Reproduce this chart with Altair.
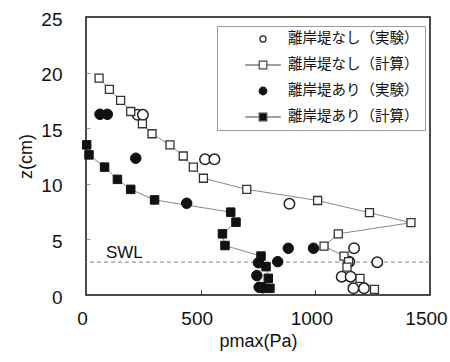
import altair as alt
import pandas as pd

# Series labels
S_OPEN_EXP = "離岸堤なし（実験）"
S_OPEN_CAL = "離岸堤なし（計算）"
S_FILL_EXP = "離岸堤あり（実験）"
S_FILL_CAL = "離岸堤あり（計算）"
SERIES = [S_OPEN_EXP, S_OPEN_CAL, S_FILL_EXP, S_FILL_CAL]

# No breakwater, experiment (pmax in Pa, z in cm)
nb_exp_p = [225, 248, 519, 560, 887, 1169, 1148, 1270, 1115, 1154, 1166, 1212]
nb_exp_z = [16.2, 16.2, 12.2, 12.2, 8.2, 4.2, 3.0, 2.95, 1.65, 1.65, 0.6, 0.6]

# No breakwater, calculation
nb_cal_p = [57, 102, 151, 195, 246, 288, 366, 424, 468, 512, 701, 1010, 1236,
            1417, 1100, 1038, 1125, 1145, 1138, 1195, 1258]
nb_cal_z = [19.5, 18.5, 17.5, 16.5, 15.4, 14.5, 13.5, 12.5, 11.5, 10.5, 9.5,
            8.5, 7.4, 6.5, 5.5, 4.4, 3.5, 3.0, 2.5, 1.5, 0.5]

# With breakwater, experiment
wb_exp_p = [61, 93, 217, 439, 882, 992, 836, 752, 745, 755, 772]
wb_exp_z = [16.25, 16.25, 12.3, 8.25, 4.2, 4.2, 3.0, 2.9, 1.75, 0.7, 0.65]

# With breakwater, calculation
wb_cal_p = [3, 13, 81, 137, 195, 299, 631, 654, 595, 606, 763, 785, 795, 802]
wb_cal_z = [13.5, 12.6, 11.5, 10.4, 9.5, 8.55, 7.45, 6.55, 5.5, 4.45, 3.5,
            2.55, 1.5, 0.6]

SWL_Z = 2.95

x_ticks = [0, 500, 1000, 1500]
y_ticks = [0, 5, 10, 15, 20, 25]


def frame(p, z, name):
    return pd.DataFrame({"p": p, "z": z, "series": name, "idx": range(len(p))})


df_nb_exp = frame(nb_exp_p, nb_exp_z, S_OPEN_EXP)
df_nb_cal = frame(nb_cal_p, nb_cal_z, S_OPEN_CAL)
df_wb_exp = frame(wb_exp_p, wb_exp_z, S_FILL_EXP)
df_wb_cal = frame(wb_cal_p, wb_cal_z, S_FILL_CAL)
df_all = pd.concat([df_nb_exp, df_nb_cal, df_wb_exp, df_wb_cal], ignore_index=True)
df_lines = pd.concat([df_nb_cal, df_wb_cal], ignore_index=True)

AX_FONT = "Liberation Sans"
JP_FONT = "Noto Sans CJK JP"

x_scale = alt.Scale(domain=[0, 1500], nice=False, zero=False)
y_scale = alt.Scale(domain=[0, 25], nice=False, zero=False)

x_main = alt.X("p:Q", scale=x_scale, axis=alt.Axis(
    values=x_ticks, format="d", title="pmax(Pa)", grid=False, domain=False,
    ticks=False, tickSize=0, labelPadding=14, labelFlush=False,
    labelOffset=-4, labelFontSize=19, labelFont=AX_FONT, labelColor="#111",
    titleFont=AX_FONT, titleFontSize=18, titleFontWeight="normal",
    titleColor="#111", titlePadding=4))
y_main = alt.Y("z:Q", scale=y_scale, axis=alt.Axis(
    values=y_ticks, format="d", title="z(cm)", grid=False, domain=False,
    ticks=False, tickSize=0, labelPadding=24, labelFlush=False,
    labelOffset=2, labelFontSize=19, labelFont=AX_FONT, labelColor="#111",
    titleFont=AX_FONT, titleFontSize=18, titleFontWeight="normal",
    titleColor="#111", titlePadding=5))

x_plain = alt.X("p:Q", scale=x_scale, axis=None)
y_plain = alt.Y("z:Q", scale=y_scale, axis=None)

# Inward tick marks drawn by axes mirrored onto the bottom and left edges
tick_layer = alt.Chart(df_all).mark_point(opacity=0).encode(
    x=alt.X("p:Q", scale=x_scale, axis=alt.Axis(
        orient="top", offset=-278, values=[500, 1000], labels=False,
        domain=False, grid=False, title=None, tickSize=5, tickColor="#333",
        tickWidth=1)),
    y=alt.Y("z:Q", scale=y_scale, axis=alt.Axis(
        orient="right", offset=-344, values=[5, 10, 15, 20], labels=False,
        domain=False, grid=False, title=None, tickSize=4, tickColor="#999",
        tickWidth=1)),
)

swl_rule = alt.Chart(pd.DataFrame({"z": [SWL_Z]})).mark_rule(
    color="#999", strokeDash=[4, 3], strokeWidth=1.2
).encode(y=y_plain)

swl_text = alt.Chart(pd.DataFrame({"p": [87], "z": [3.3], "t": ["SWL"]})).mark_text(
    align="left", baseline="alphabetic", font=AX_FONT, fontSize=17, color="#111"
).encode(x=x_plain, y=y_plain, text="t:N")

lines = alt.Chart(df_lines).mark_line(color="#888", strokeWidth=1).encode(
    x=x_plain, y=y_plain, detail="series:N", order="idx:Q")

open_circles = alt.Chart(df_nb_exp).mark_point(
    shape="circle", filled=True, fill="white", stroke="#222", strokeWidth=1.5,
    size=110, opacity=1).encode(x=x_plain, y=y_plain)

open_squares = alt.Chart(df_nb_cal).mark_point(
    shape="square", filled=True, fill="white", stroke="#333", strokeWidth=1.3,
    size=64, opacity=1).encode(x=x_plain, y=y_plain)

filled_circles = alt.Chart(df_wb_exp).mark_point(
    shape="circle", filled=True, fill="#111", stroke="#111", strokeWidth=1,
    size=110, opacity=1).encode(x=x_main, y=y_main)

filled_squares = alt.Chart(df_wb_cal).mark_point(
    shape="square", filled=True, fill="#111", stroke="#111", strokeWidth=1,
    size=72, opacity=1).encode(x=x_plain, y=y_plain)

# Legend symbols (unit box spans the full 38px symbol width):
# small circles, or a short line with a small square on it
circ_open = "M0.16,0A0.16,0.16 0 1,1 -0.16,0A0.16,0.16 0 1,1 0.16,0Z"
circ_fill = "M0.2,0A0.2,0.2 0 1,1 -0.2,0A0.2,0.2 0 1,1 0.2,0Z"
line_sq = "M-0.94,0H-0.2M0.2,0H0.94M-0.2,-0.2H0.2V0.2H-0.2Z"

legend_layer = alt.Chart(df_all).mark_point(opacity=0).encode(
    x=x_plain, y=y_plain,
    shape=alt.Shape("series:N", scale=alt.Scale(
        domain=SERIES, range=[circ_open, line_sq, circ_fill, line_sq]),
        legend=alt.Legend(
            title=None, orient="none", legendX=131, legendY=9,
            padding=6, rowPadding=11, symbolSize=1444, clipHeight=14,
            symbolOffset=20, labelOffset=5, symbolOpacity=1,
            symbolStrokeWidth=1.2, labelFont=JP_FONT, labelFontSize=14.5,
            labelColor="#111", labelLimit=300, fillColor="white",
            strokeColor="#999")),
    fill=alt.Fill("series:N", scale=alt.Scale(
        domain=SERIES, range=["white", "white", "#111", "#111"]), legend=None),
    stroke=alt.Stroke("series:N", scale=alt.Scale(
        domain=SERIES, range=["#222", "#444", "#111", "#444"]), legend=None),
)

chart = alt.layer(
    tick_layer, swl_rule, swl_text, lines, open_circles, open_squares,
    filled_circles, filled_squares, legend_layer,
).resolve_axis(
    x="independent", y="independent"
).properties(
    width=344, height=278,
    autosize=alt.AutoSizeParams(type="none"),
    padding={"left": 86, "top": 17, "right": 20, "bottom": 67},
    background="white",
).configure_view(
    stroke="#111", strokeWidth=1.5
)

chart.save("out.html", embed_options={"renderer": "svg", "actions": False})
